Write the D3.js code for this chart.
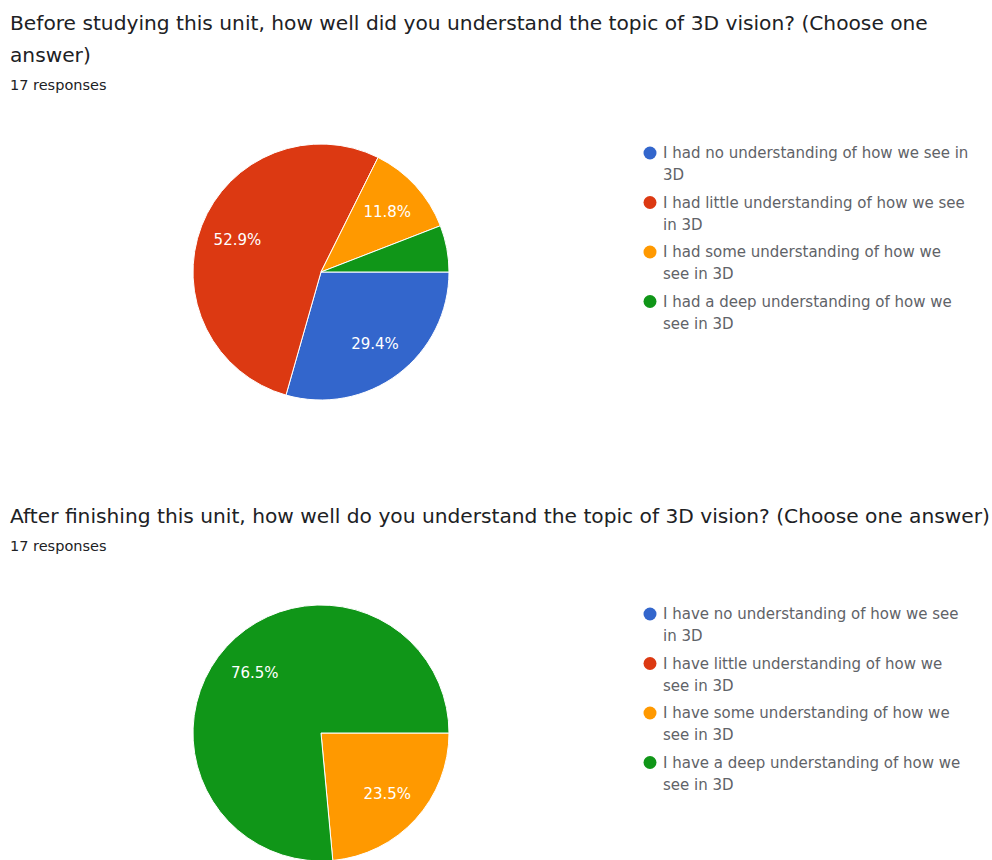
<!DOCTYPE html>
<html>
<head>
<meta charset="utf-8">
<script src="https://cdn.jsdelivr.net/npm/d3@7"></script>
<style>
  body { margin: 0; background: #fff; }
  svg text { font-family: "DejaVu Sans", sans-serif; }
</style>
</head>
<body>
<svg></svg>
<script>
// Canvas size
var w = 992;
var h = 860;

// Data for the two survey questions
var titleBefore = ["Before studying this unit, how well did you understand the topic of 3D vision? (Choose one", "answer)"];
var titleAfter = ["After finishing this unit, how well do you understand the topic of 3D vision? (Choose one answer)"];
var responsesText = "17 responses";

var legendBefore = [
    ["I had no understanding of how we see in", "3D"],
    ["I had little understanding of how we see", "in 3D"],
    ["I had some understanding of how we", "see in 3D"],
    ["I had a deep understanding of how we", "see in 3D"]
];
var legendAfter = [
    ["I have no understanding of how we see", "in 3D"],
    ["I have little understanding of how we", "see in 3D"],
    ["I have some understanding of how we", "see in 3D"],
    ["I have a deep understanding of how we", "see in 3D"]
];

// response counts per answer (17 in total)
var countsBefore = [5, 9, 2, 1];
var countsAfter = [0, 0, 4, 13];

var colors = ["#3366cc", "#dc3912", "#ff9900", "#109618"];

var svg = d3.select("svg")
    .attr("width", w)
    .attr("height", h);

var radius = 128;

var pie = d3.pie()
    .value(d => d)
    .sort(null)
    .startAngle(Math.PI / 2)
    .endAngle(Math.PI / 2 + 2 * Math.PI);

var arc = d3.arc()
    .innerRadius(0)
    .outerRadius(radius);

var labelArc = d3.arc()
    .innerRadius(radius * 0.7)
    .outerRadius(radius * 0.7);

// Draws one question block: title, response count, pie, legend
function drawQuestion(top, titleLines, counts, legendLines) {
    var g = svg.append("g").attr("transform", "translate(0," + top + ")");

    g.selectAll(".title")
        .data(titleLines)
        .enter().append("text")
        .attr("class", "title")
        .attr("x", 10)
        .attr("y", (d, i) => 30 + i * 32)
        .attr("fill", "#202124")
        .style("font-size", "20.2px")
        .text(d => d);

    g.append("text")
        .attr("x", 10)
        .attr("y", 30 + (titleLines.length - 1) * 32 + 28)
        .attr("fill", "#202124")
        .style("font-size", "14.5px")
        .text(responsesText);

    var cy = 30 + (titleLines.length - 1) * 32 + 210;
    var total = d3.sum(counts);

    var pieG = g.append("g")
        .attr("transform", "translate(321," + cy + ")");

    var slices = pie(counts);

    pieG.selectAll("path")
        .data(slices.filter(d => d.value > 0))
        .enter().append("path")
        .attr("d", arc)
        .attr("fill", d => colors[d.index])
        .attr("stroke", "#fff")
        .attr("stroke-width", 1);

    pieG.selectAll(".slice-label")
        .data(slices.filter(d => d.value / total > 0.1))
        .enter().append("text")
        .attr("class", "slice-label")
        .attr("transform", d => "translate(" + labelArc.centroid(d) + ")")
        .attr("text-anchor", "middle")
        .attr("dy", "0.35em")
        .attr("fill", "#fff")
        .style("font-size", "15px")
        .text(d => (d.value / total * 100).toFixed(1) + "%");

    // Legend
    var legend = g.append("g")
        .attr("transform", "translate(650," + (cy - 119) + ")");

    var item = legend.selectAll(".item")
        .data(legendLines)
        .enter().append("g")
        .attr("class", "item")
        .attr("transform", (d, i) => "translate(0," + i * 49.5 + ")");

    item.append("circle")
        .attr("r", 6.5)
        .attr("fill", (d, i) => colors[i]);

    item.selectAll("text")
        .data(d => d)
        .enter().append("text")
        .attr("x", 13)
        .attr("y", (d, i) => i * 22)
        .attr("dy", "0.35em")
        .attr("fill", "#5f6368")
        .style("font-size", "15px")
        .text(d => d);
}

drawQuestion(0, titleBefore, countsBefore, legendBefore);
drawQuestion(493, titleAfter, countsAfter, legendAfter);
</script>
</body>
</html>
